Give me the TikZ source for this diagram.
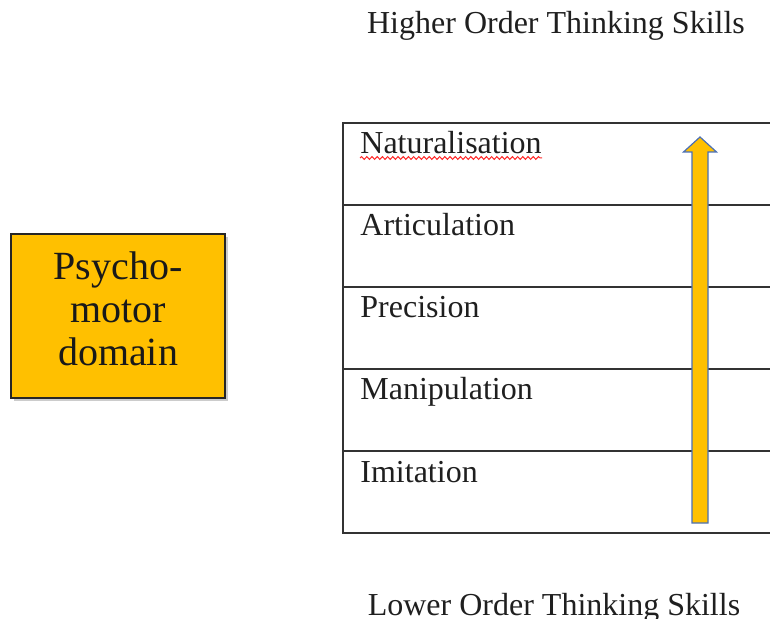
\documentclass[tikz,border=0pt]{standalone}
\usepackage{fontspec}
\setmainfont{Liberation Serif}
\usetikzlibrary{positioning,shadows,decorations.pathmorphing}
\definecolor{gold}{HTML}{FFC000}
\definecolor{edgeblue}{HTML}{4A6FB5}

\begin{document}
\begin{tikzpicture}[x=0.5pt,y=-0.5pt]
				\tikzstyle{domainbox}=[rectangle, draw=black!85, fill=gold, line width=0.8pt, minimum width=107pt, minimum height=82pt, align=center, text depth=7pt, text=black!90, font=\fontsize{20}{21.5}\selectfont, drop shadow={shadow xshift=1.5pt, shadow yshift=-1.5pt, opacity=0.4}]
				\tikzstyle{level}=[rectangle, draw=black!80, line width=0.75pt, minimum width=225pt, minimum height=41pt, inner sep=0pt, outer sep=0pt]
				\tikzstyle{lbl}=[anchor=base west, inner sep=0pt, text=black!88, font=\fontsize{16}{19}\selectfont]
				\tikzstyle{title}=[anchor=base, inner sep=0pt, text=black!88, font=\fontsize{16}{19}\selectfont]
				\tikzstyle{blockarrow}=[draw=edgeblue, fill=gold, line width=0.6pt, line join=miter]

				\useasboundingbox (0,0) rectangle (770,619);

				\node[title] (high) at (556,34) {Higher Order Thinking Skills};
				\node[title] (low) at (554,615) {Lower Order Thinking Skills};

				\node[domainbox] (dom) at (118,316) {Psycho-\\motor\\domain};

				% the five levels, top row first
				\node[level, anchor=north west] (nat) at (343,123) {};
				\node[level] (art) [below=0pt of nat] {};
				\node[level] (pre) [below=0pt of art] {};
				\node[level] (man) [below=0pt of pre] {};
				\node[level] (imi) [below=0pt of man] {};

				\foreach \row/\txt in {nat/Naturalisation,art/Articulation,pre/Precision,man/Manipulation,imi/Imitation}
				\node[lbl] (\row l) at ([shift={(17,31)}]\row.north west) {\txt};

				\draw[red!85, line width=0.5pt, decorate, decoration={snake, amplitude=0.7pt, segment length=2.6pt}]
					([yshift=-2pt]natl.base west) -- ([yshift=-2pt]natl.base east);

				% upward arrow
				\coordinate (abot) at (700,523);
				\coordinate (atop) at (700,137);
				\draw[blockarrow] (abot) ++(-8,0) -- ++(16,0) -- ++(0,-371) -- ++(8.5,0)
					-- (atop) -- ++(-16.5,15) -- ++(8.5,0) -- cycle;
			\end{tikzpicture}
\end{document}
